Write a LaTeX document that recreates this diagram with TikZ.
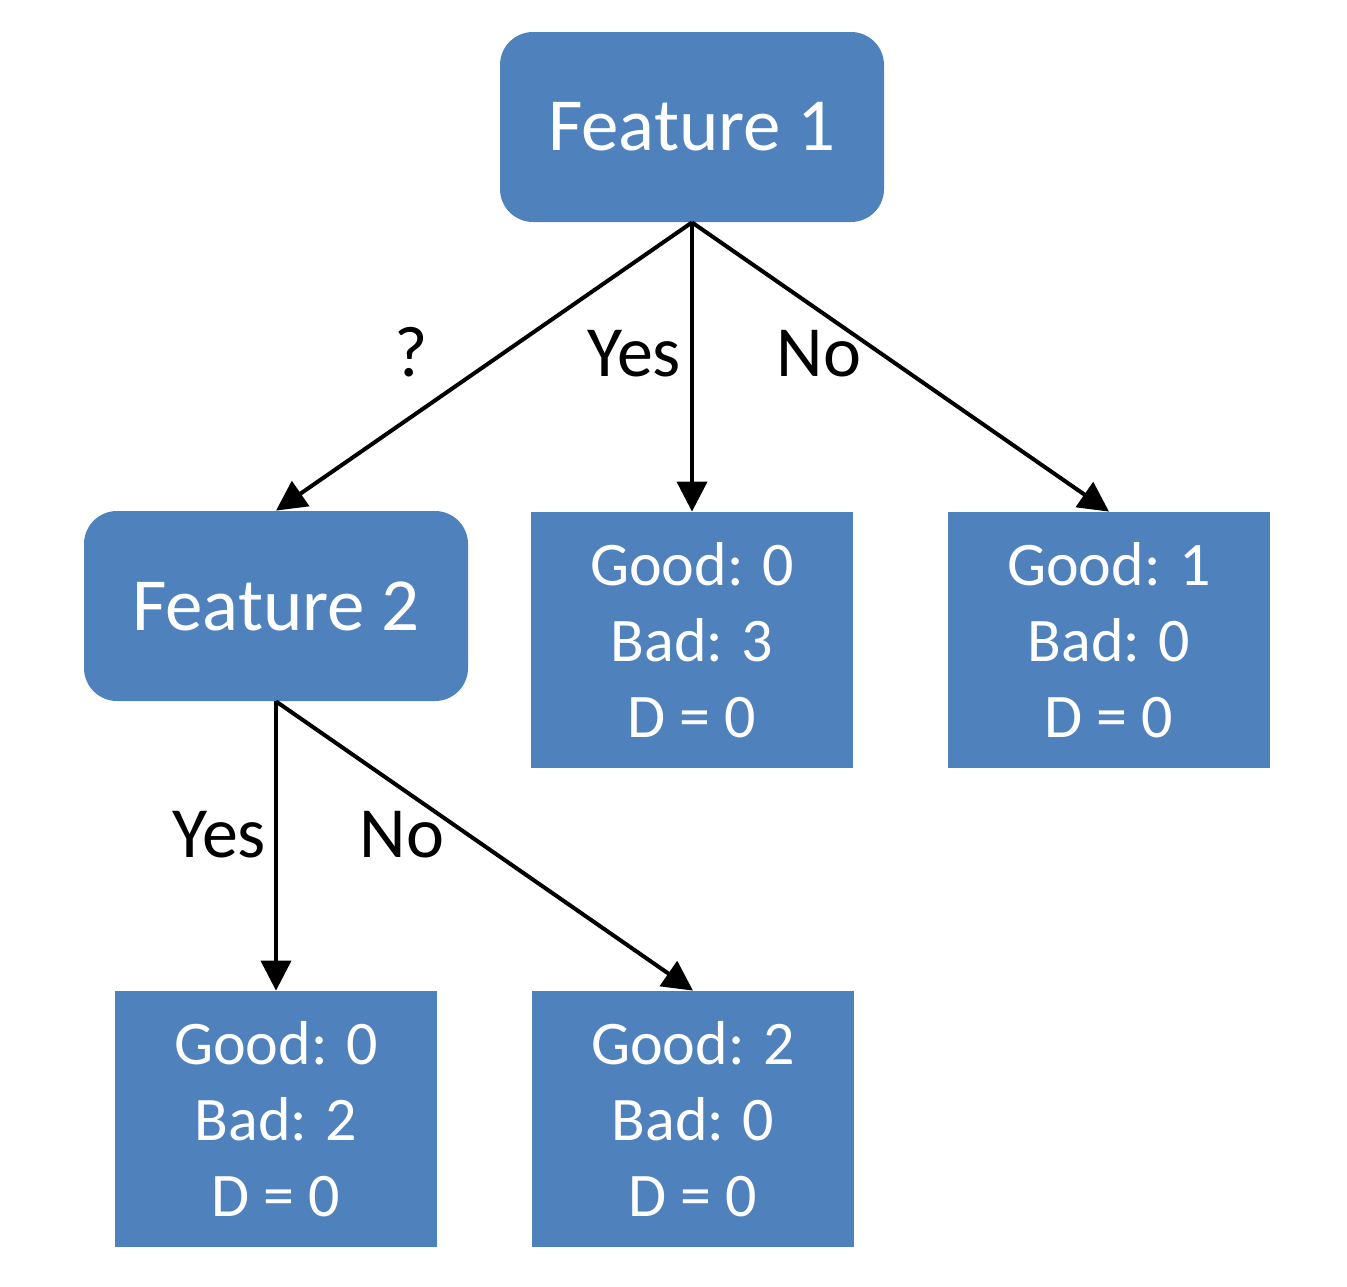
\documentclass[tikz,border=0pt]{standalone}
\usepackage{fontspec}
\setmainfont{Carlito}
\usetikzlibrary{arrows.meta}
\definecolor{boxblue}{HTML}{4F81BD}
\begin{document}
\begin{tikzpicture}[x=0.5pt,y=-0.5pt,
  feat/.style={draw=none,fill=boxblue,rounded corners=16.5pt,minimum width=192pt,minimum height=95pt,inner sep=0pt,text=white,font=\fontsize{37.5}{45}\selectfont},
  leaf/.style={draw=none,fill=boxblue,minimum width=161pt,minimum height=128pt,inner sep=0pt,text=white,align=center,font=\fontsize{31}{38}\selectfont},
  lbl/.style={anchor=base,inner sep=0pt,font=\fontsize{36}{43}\selectfont},
  conn/.style={line width=2pt,-{Triangle[length=15pt,width=15pt]}}]
\useasboundingbox (0,0) rectangle (1347,1286);
\node[feat] (f1) at (692,127) {Feature 1};
\node[feat] (f2) at (276,606) {Feature 2};
\node[leaf] (a) at (692,640) {Good: 0\\Bad: 3\\D = 0};
\node[leaf] (b) at (1109,640) {Good: 1\\Bad: 0\\D = 0};
\node[leaf] (c) at (276,1119) {Good: 0\\Bad: 2\\D = 0};
\node[leaf] (d) at (693,1119) {Good: 2\\Bad: 0\\D = 0};
\draw[conn] (f1.south) -- (f2.north);
\draw[conn] (f1.south) -- (a.north);
\draw[conn] (f1.south) -- (b.north);
\draw[conn] (f2.south) -- (c.north);
\draw[conn] (f2.south) -- (d.north);
\node[lbl] (q) at (411,376) {?};
\node[lbl] (y1) at (634,376) {Yes};
\node[lbl] (n1) at (819,376) {No};
\node[lbl] (y2) at (219,857) {Yes};
\node[lbl] (n2) at (402,857) {No};
\end{tikzpicture}
\end{document}
